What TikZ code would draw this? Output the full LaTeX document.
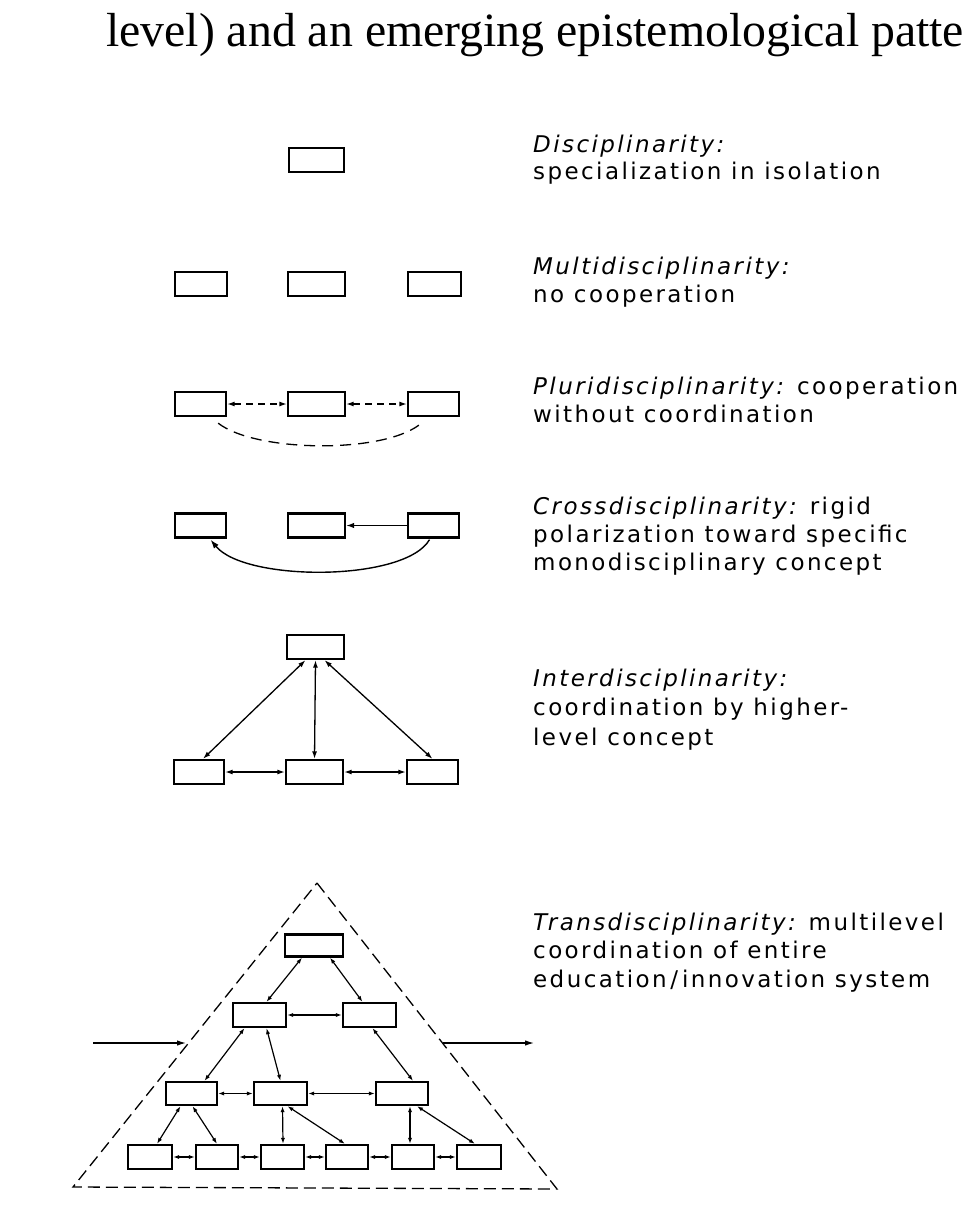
\documentclass[tikz,border=0pt]{standalone}
\usepackage{fontspec}
\usetikzlibrary{arrows.meta,calc}
\newfontfamily\labfont[LetterSpace=10.5]{DejaVu Sans}
\newfontfamily\ttlfont{Liberation Serif}
\tikzset{
  bx/.style={draw, line width=2.3pt, inner sep=0pt, minimum width=#1, minimum height=24pt},
  bx/.default=55pt,
  con/.style={line width=1.3pt, {Latex[length=7.5pt,width=5pt]}-{Latex[length=7.5pt,width=5pt]}},
  scon/.style={line width=1.2pt, {Latex[length=6pt,width=4.2pt]}-{Latex[length=6pt,width=4.2pt]}},
  dcon/.style={con, dash pattern=on 7pt off 5pt},
  lab/.style={anchor=base west, align=left, inner sep=0pt, font=\labfont\fontsize{23}{28}\selectfont},
  ttl/.style={anchor=base west, inner sep=0pt, font=\ttlfont\fontsize{47.8}{52}\selectfont},
}
\begin{document}
\begin{tikzpicture}[x=1pt,y=-1pt]
\useasboundingbox (0,0) rectangle (970,1209);
\clip (0,0) rectangle (970,1209);
\fill[white] (0,0) rectangle (970,1209);

% title fragment
\node[ttl] (title) at (106,47) {level) and an emerging epistemological patte};

% Disciplinarity
\node[bx] (d1) at (316.5,160) {};
\node[lab] (t1) at (533,180) {\itshape Disciplinarity:\\specialization in isolation};

% Multidisciplinarity
\node[bx=52pt] (m1) at (201,284) {};
\node[bx=57pt] (m2) at (316.5,284) {};
\node[bx=53pt] (m3) at (434.5,284) {};
\node[lab] (t2) at (533,302) {\itshape Multidisciplinarity:\\no cooperation};

% Pluridisciplinarity
\node[bx=51pt] (p1) at (200.5,404) {};
\node[bx=57pt] (p2) at (316.5,404) {};
\node[bx=51pt] (p3) at (433.5,404) {};
\draw[dcon] (p1.east) -- (p2.west);
\draw[dcon] (p2.east) -- (p3.west);
\draw[line width=1.3pt, dash pattern=on 11pt off 7pt]
  ($(p1.south east)+(-9,6)$) .. controls (255,452) and (380,454) .. ($(p3.south west)+(12,8)$);
\node[lab] (t3) at (533,422) {{\itshape Pluridisciplinarity:} cooperation\\without coordination};

% Crossdisciplinarity
\node[bx=51pt] (c1) at (200.5,525.5) {};
\node[bx=57pt] (c2) at (316.5,525.5) {};
\node[bx=51pt] (c3) at (433.5,525.5) {};
\draw[line width=1.3pt, -{Latex[length=8pt,width=5.5pt]}] (c3.west) -- (c2.east);
\draw[line width=1.4pt, -{Latex[length=9pt,width=6pt]}]
  ($(c3.south)+(-4,1)$) .. controls (405,582) and (245,582) .. ($(c1.south)+(10,1)$);
\node[lab] (t4) at (533,570) {{\itshape Crossdisciplinarity:} rigid\\polarization toward specific\\monodisciplinary concept};

% Interdisciplinarity
\node[bx=57pt] (i0) at (315.5,647) {};
\node[bx=50pt] (i1) at (199,772) {};
\node[bx=57pt] (i2) at (314.5,772) {};
\node[bx=51pt] (i3) at (432.5,772) {};
\draw[con] ($(i0.south)+(-10,0)$) -- ($(i1.north)+(4,0)$);
\draw[con] (i0.south) -- (i2.north);
\draw[con] ($(i0.south)+(9,0)$) -- (i3.north);
\draw[con] (i1.east) -- (i2.west);
\draw[con] (i2.east) -- (i3.west);
\node[lab, font=\labfont\fontsize{23}{29.5}\selectfont] (t5) at (533,745) {\itshape Interdisciplinarity:\\coordination by higher-\\level concept};

% Transdisciplinarity
\coordinate (apex) at (317,883);
\coordinate (bl) at (73,1187);
\coordinate (br) at (557,1189);
\draw[line width=1.3pt, dash pattern=on 12pt off 6pt] (apex) -- (br) -- (bl) -- cycle;

\node[bx=58pt, minimum height=22pt] (r1) at (314,945.5) {};
\node[bx=53pt] (r2a) at (259.5,1015) {};
\node[bx=53pt] (r2b) at (369.5,1015) {};
\node[bx=51pt, minimum height=23pt] (r3a) at (191.5,1093.5) {};
\node[bx=53pt, minimum height=23pt] (r3b) at (280.5,1093.5) {};
\node[bx=52pt, minimum height=23pt] (r3c) at (402,1093.5) {};
\node[bx=44pt] (r4a) at (150,1157) {};
\node[bx=42pt] (r4b) at (217,1157) {};
\node[bx=43pt] (r4c) at (282.5,1157) {};
\node[bx=42pt] (r4d) at (347,1157) {};
\node[bx=42pt] (r4e) at (413,1157) {};
\node[bx=44pt] (r4f) at (479,1157) {};

\draw[scon] ($(r1.south)+(-12,0)$) -- ($(r2a.north)+(7,0)$);
\draw[scon] ($(r1.south)+(16,0)$) -- ($(r2b.north)+(-7,0)$);
\draw[scon] (r2a.east) -- (r2b.west);
\draw[scon] ($(r2a.south)+(-15,0)$) -- ($(r3a.north)+(13,0)$);
\draw[scon] ($(r2a.south)+(7,0)$) -- (r3b.north);
\draw[scon] ($(r2b.south)+(3,0)$) -- ($(r3c.north)+(11,0)$);
\draw[scon] (r3a.east) -- (r3b.west);
\draw[scon] (r3b.east) -- (r3c.west);
\draw[scon] ($(r3a.south)+(-11,0)$) -- ($(r4a.north)+(7,0)$);
\draw[scon] ($(r3a.south)+(1,0)$) -- (r4b.north);
\draw[scon] ($(r3b.south)+(2,0)$) -- ($(r4c.north)+(0.5,0)$);
\draw[scon] ($(r3b.south)+(7,0)$) -- ($(r4d.north)+(-2,0)$);
\draw[scon] ($(r3c.south)+(8,0)$) -- ($(r4e.north)+(-3,0)$);
\draw[scon] ($(r3c.south)+(15,0)$) -- ($(r4f.north)+(-4,0)$);
\draw[scon] (r4a.east) -- (r4b.west);
\draw[scon] (r4b.east) -- (r4c.west);
\draw[scon] (r4c.east) -- (r4d.west);
\draw[scon] (r4d.east) -- (r4e.west);
\draw[scon] (r4e.east) -- (r4f.west);

\coordinate (inA) at (93,1043);
\coordinate (inB) at (186,1043);
\coordinate (outA) at (443,1043);
\coordinate (outB) at (534,1043);
\draw[line width=1.2pt, -{Latex[length=9pt,width=5.5pt]}] (inA) -- (inB);
\draw[line width=1.2pt, -{Latex[length=9pt,width=5.5pt]}] (outA) -- (outB);

\node[lab, font=\labfont\fontsize{23}{28.5}\selectfont] (t6) at (533,987) {{\itshape Transdisciplinarity:} multilevel\\coordination of entire\\education\,/\,innovation system};
\end{tikzpicture}
\end{document}
